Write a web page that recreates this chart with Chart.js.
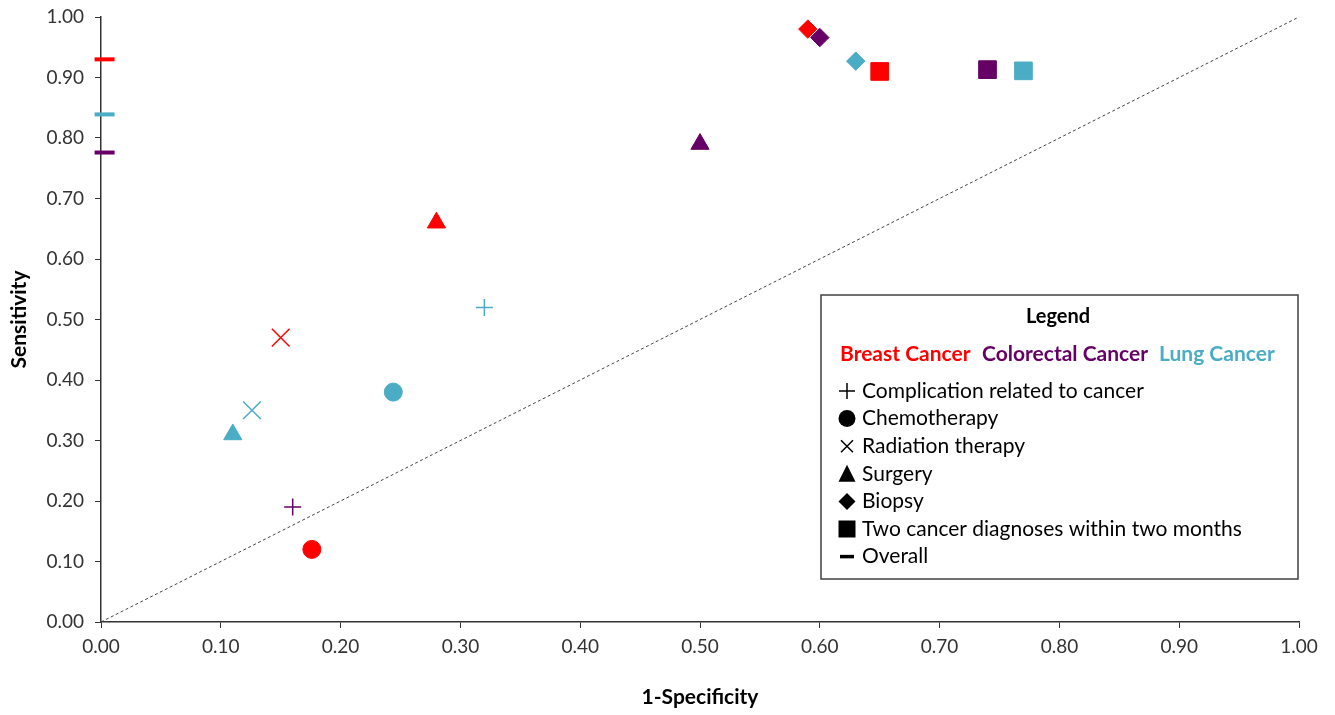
<!DOCTYPE html>
<html>
<head>
<meta charset="utf-8">
<script src="https://cdn.jsdelivr.net/npm/chart.js@4/dist/chart.umd.min.js"></script>
<style>
  html, body { margin: 0; padding: 0; background: #fff; }
  #wrap { width: 1335px; height: 715px; }
</style>
</head>
<body>
<div id="wrap"><canvas id="c" width="1335" height="715"></canvas></div>
<script>
// ---- data ----
const measures = ['Complication related to cancer', 'Chemotherapy', 'Radiation therapy', 'Surgery', 'Biopsy', 'Two cancer diagnoses within two months', 'Overall'];
const cancers = ['Breast Cancer', 'Colorectal Cancer', 'Lung Cancer'];
const breastOneMinusSpec = [null, 0.176, 0.150, 0.280, 0.590, 0.650, 0.003];
const breastSens         = [null, 0.120, 0.470, 0.660, 0.980, 0.910, 0.930];
const colorectalOneMinusSpec = [0.160, null, null, 0.500, 0.600, 0.740, 0.003];
const colorectalSens         = [0.190, null, null, 0.790, 0.966, 0.913, 0.776];
const lungOneMinusSpec = [0.320, 0.244, 0.126, 0.110, 0.630, 0.770, 0.003];
const lungSens         = [0.520, 0.380, 0.350, 0.310, 0.927, 0.911, 0.839];
const diagonalX = [0, 1];
const diagonalY = [0, 1];
const tickValues = [0, 0.1, 0.2, 0.3, 0.4, 0.5, 0.6, 0.7, 0.8, 0.9, 1.0];

// ---- styles ----
const colors = ['#FF0000', '#660066', '#4BACC6'];
const pointStyles = ['cross', 'circle', 'crossRot', 'triangle', 'rectRot', 'rect', 'line'];
const pointRadii  = [8.5, 9, 12.5, 10.5, 9.2, 12.5, 10];
const pointBorder = [1.5, 1, 1.5, 1, 1, 1, 4];
const FONT = 'Lato';

function buildPoints(xs, ys) {
  const out = [];
  xs.forEach((x, i) => { if (x !== null && ys[i] !== null) out.push({ x: x, y: ys[i], m: i }); });
  return out;
}
const seriesX = [breastOneMinusSpec, colorectalOneMinusSpec, lungOneMinusSpec];
const seriesY = [breastSens, colorectalSens, lungSens];

const datasets = [{
  type: 'line',
  label: 'Reference',
  data: diagonalX.map((x, i) => ({ x: x, y: diagonalY[i] })),
  borderColor: '#444',
  borderWidth: 1,
  borderDash: [3, 2.5],
  pointRadius: 0,
  fill: false,
  order: 10
}];
cancers.forEach((name, k) => {
  datasets.push({
    type: 'scatter',
    label: name,
    data: buildPoints(seriesX[k], seriesY[k]),
    backgroundColor: colors[k],
    borderColor: colors[k],
    pointStyle: (ctx) => pointStyles[ctx.raw.m],
    pointRadius: (ctx) => pointRadii[ctx.raw.m],
    pointBorderWidth: (ctx) => pointBorder[ctx.raw.m],
    pointHoverRadius: (ctx) => pointRadii[ctx.raw.m],
    clip: false,
    order: 1
  });
});

// ---- custom legend box ----
function drawMarker(ctx, style, x, y) {
  ctx.save();
  ctx.fillStyle = '#000';
  ctx.strokeStyle = '#000';
  ctx.beginPath();
  switch (style) {
    case 'cross':
      ctx.lineWidth = 1.5;
      ctx.moveTo(x - 8, y); ctx.lineTo(x + 8, y);
      ctx.moveTo(x, y - 8); ctx.lineTo(x, y + 8);
      ctx.stroke(); break;
    case 'circle':
      ctx.arc(x, y, 8.5, 0, Math.PI * 2); ctx.fill(); break;
    case 'crossRot':
      ctx.lineWidth = 1.5;
      ctx.moveTo(x - 6, y - 6); ctx.lineTo(x + 6, y + 6);
      ctx.moveTo(x + 6, y - 6); ctx.lineTo(x - 6, y + 6);
      ctx.stroke(); break;
    case 'triangle':
      ctx.moveTo(x, y - 9); ctx.lineTo(x + 8.5, y + 8); ctx.lineTo(x - 8.5, y + 8); ctx.closePath(); ctx.fill(); break;
    case 'rectRot':
      ctx.moveTo(x, y - 8.5); ctx.lineTo(x + 8.5, y); ctx.lineTo(x, y + 8.5); ctx.lineTo(x - 8.5, y); ctx.closePath(); ctx.fill(); break;
    case 'rect':
      ctx.rect(x - 8.5, y - 8.5, 17, 17); ctx.fill(); break;
    case 'line':
      ctx.fillRect(x - 7, y - 1.75, 14, 3.5); break;
  }
  ctx.restore();
}

const legendBox = {
  id: 'legendBox',
  afterDraw(chart) {
    const ctx = chart.ctx;
    const bx = 821, by = 295, bw = 477, bh = 284;
    ctx.save();
    ctx.fillStyle = '#fff';
    ctx.fillRect(bx, by, bw, bh);
    ctx.strokeStyle = '#404040';
    ctx.lineWidth = 1.5;
    ctx.strokeRect(bx, by, bw, bh);

    ctx.textBaseline = 'middle';
    ctx.fillStyle = '#000';
    ctx.font = 'bold 20px ' + FONT;
    ctx.textAlign = 'center';
    ctx.fillText('Legend', 1058, 317);

    ctx.textAlign = 'left';
    ctx.font = 'bold 21px ' + FONT;
    const headerX = [840, 982, 1159];
    cancers.forEach((name, k) => {
      ctx.fillStyle = colors[k];
      ctx.fillText(name, headerX[k], 354);
    });

    ctx.font = '21px ' + FONT;
    ctx.fillStyle = '#000';
    measures.forEach((m, i) => {
      const y = 391 + i * 27.6;
      drawMarker(ctx, pointStyles[i], 847, y);
      ctx.fillStyle = '#000';
      ctx.fillText(m, 862, y);
    });
    ctx.restore();
  }
};

const axisColor = '#333';
function tickOpts() {
  return {
    stepSize: 0.1,
    autoSkip: false,
    color: '#333',
    font: { family: FONT, size: 19 },
    callback: (v) => Number(v).toFixed(2)
  };
}

new Chart(document.getElementById('c'), {
  data: { datasets: datasets },
  options: {
    responsive: false,
    animation: false,
    devicePixelRatio: 1,
    layout: { padding: { top: 17, right: 36, left: 0, bottom: 0 } },
    plugins: {
      legend: { display: false },
      tooltip: { enabled: false },
      title: { display: false }
    },
    scales: {
      x: {
        type: 'linear',
        min: 0, max: 1,
        afterBuildTicks: (s) => { s.ticks = tickValues.map(v => ({ value: v })); },
        afterFit: (s) => { s.height = 93; s.paddingRight = 0; s.paddingLeft = 0; },
        ticks: Object.assign(tickOpts(), { padding: 7, maxRotation: 0 }),
        grid: { drawOnChartArea: false, drawTicks: true, tickLength: 6, color: axisColor, lineWidth: 1 },
        border: { color: axisColor, width: 1.5 },
        title: { display: true, text: '1-Specificity', color: '#000', font: { family: FONT, size: 21, weight: 'bold' }, padding: { top: 0, bottom: 5 } }
      },
      y: {
        type: 'linear',
        min: 0, max: 1,
        afterBuildTicks: (s) => { s.ticks = tickValues.map(v => ({ value: v })); },
        afterFit: (s) => { s.width = 101; s.paddingTop = 0; s.paddingBottom = 0; },
        ticks: Object.assign(tickOpts(), { padding: 11 }),
        grid: { drawOnChartArea: false, drawTicks: true, tickLength: 6, color: axisColor, lineWidth: 1 },
        border: { color: axisColor, width: 1.5 },
        title: { display: true, text: 'Sensitivity', color: '#000', font: { family: FONT, size: 21, weight: 'bold' }, padding: { top: 7, bottom: 0 } }
      }
    }
  },
  plugins: [legendBox]
});
</script>
</body>
</html>
